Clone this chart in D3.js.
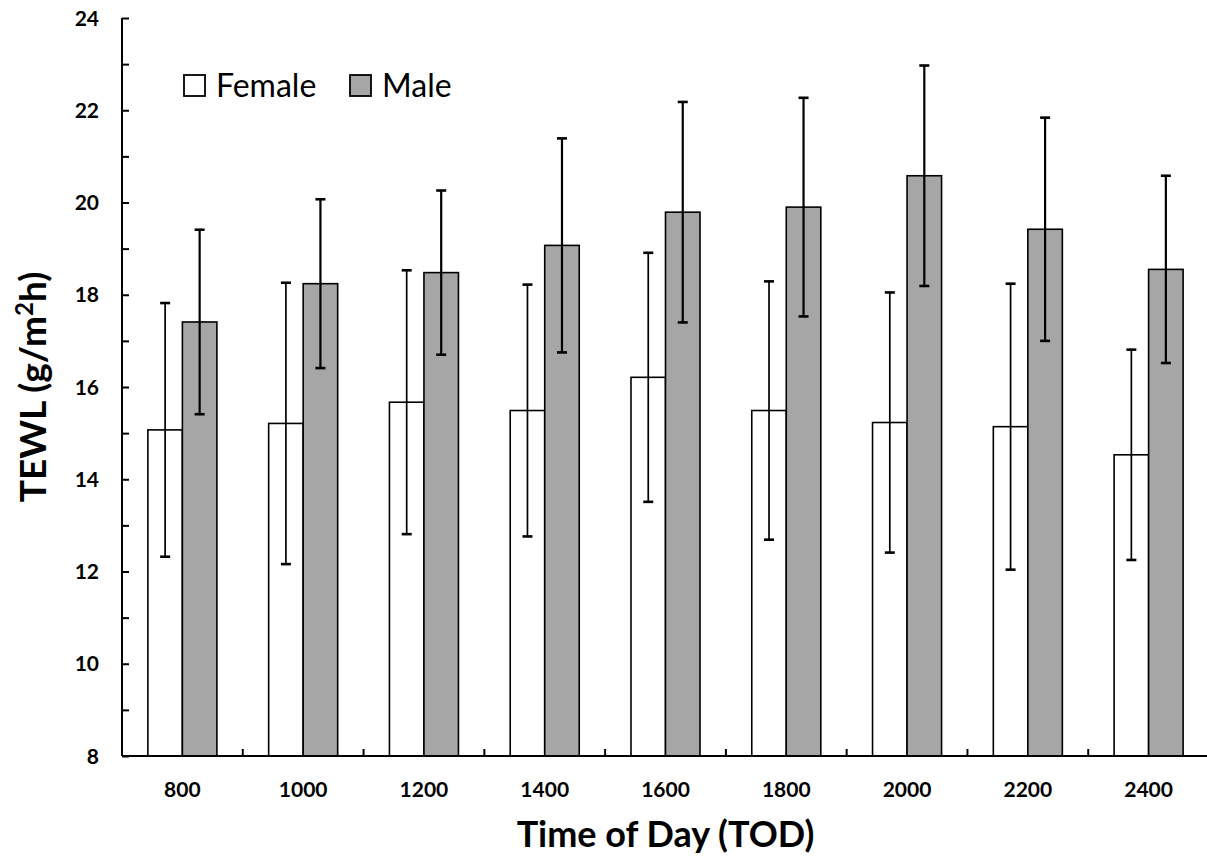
<!DOCTYPE html>
<html>
<head>
<meta charset="utf-8">
<script src="https://cdn.jsdelivr.net/npm/d3@7"></script>
<style>
  html, body { margin: 0; padding: 0; background: #fff; }
  svg { display: block; }
  text { font-family: Lato, "Open Sans", sans-serif; fill: #000; }
</style>
</head>
<body>
<svg id="chart" width="1207" height="863"></svg>
<script>
// ---- data ----
const categories = ["800", "1000", "1200", "1400", "1600", "1800", "2000", "2200", "2400"];
const seriesNames = ["Female", "Male"];
const femaleMean = [15.07, 15.21, 15.67, 15.49, 16.21, 15.49, 15.23, 15.14, 14.53];
const femaleErr  = [2.75, 3.05, 2.86, 2.73, 2.70, 2.80, 2.82, 3.10, 2.28];
const maleMean   = [17.41, 18.24, 18.48, 19.07, 19.79, 19.90, 20.58, 19.42, 18.55];
const maleErr    = [2.00, 1.83, 1.78, 2.32, 2.39, 2.37, 2.39, 2.42, 2.03];
const yTicks = [8, 10, 12, 14, 16, 18, 20, 22, 24];

// ---- layout ----
const plot = { left: 122, right: 1209, top: 18, bottom: 756 };
const colors = { Female: "#ffffff", Male: "#a6a6a6" };

const svg = d3.select("#chart");

const x0 = d3.scaleBand().domain(categories).range([plot.left, plot.right]).padding(0);
const gapWidth = 1.5; // Excel-style gap width (fraction of bar width)
const barW = x0.bandwidth() / (seriesNames.length + gapWidth);
const x1 = d3.scaleBand().domain(seriesNames)
  .range([barW * gapWidth / 2, barW * gapWidth / 2 + barW * seriesNames.length]).padding(0);
const y = d3.scaleLinear().domain([8, 24]).range([plot.bottom, plot.top]);

const rows = categories.map((c, i) => ({
  cat: c,
  values: [
    { name: "Female", mean: femaleMean[i], err: femaleErr[i] },
    { name: "Male", mean: maleMean[i], err: maleErr[i] }
  ]
}));

// ---- bars ----
const groups = svg.append("g").selectAll("g").data(rows).join("g")
  .attr("transform", d => `translate(${x0(d.cat)},0)`);

groups.selectAll("rect").data(d => d.values).join("rect")
  .attr("x", d => x1(d.name))
  .attr("y", d => y(d.mean))
  .attr("width", x1.bandwidth())
  .attr("height", d => y(8) - y(d.mean))
  .attr("fill", d => colors[d.name])
  .attr("stroke", "#000")
  .attr("stroke-width", 1.6);

// ---- error bars ----
const capHalf = 5;
const eb = groups.selectAll("g.err").data(d => d.values).join("g").attr("class", "err")
  .attr("stroke", "#000")
  .attr("stroke-width", d => d.name === "Male" ? 2.2 : 1.7);
eb.append("line")
  .attr("x1", d => x1(d.name) + x1.bandwidth() / 2)
  .attr("x2", d => x1(d.name) + x1.bandwidth() / 2)
  .attr("y1", d => y(d.mean + d.err))
  .attr("y2", d => y(d.mean - d.err));
eb.append("line")
  .attr("x1", d => x1(d.name) + x1.bandwidth() / 2 - capHalf)
  .attr("x2", d => x1(d.name) + x1.bandwidth() / 2 + capHalf)
  .attr("y1", d => y(d.mean + d.err))
  .attr("y2", d => y(d.mean + d.err))
  .attr("stroke-width", 2.6);
eb.append("line")
  .attr("x1", d => x1(d.name) + x1.bandwidth() / 2 - capHalf)
  .attr("x2", d => x1(d.name) + x1.bandwidth() / 2 + capHalf)
  .attr("y1", d => y(d.mean - d.err))
  .attr("y2", d => y(d.mean - d.err))
  .attr("stroke-width", 2.6);

// ---- y axis ----
const yAxis = d3.axisRight(y).tickValues(d3.range(8, 25, 1)).tickSize(7).tickFormat("");
const gy = svg.append("g").attr("transform", `translate(${plot.left},0)`).call(yAxis);
gy.select(".domain").attr("stroke", "#000").attr("stroke-width", 2).attr("d", `M0,${y(24)}V${y(8)}`);
gy.selectAll(".tick line").attr("stroke", "#000").attr("stroke-width", 2);
svg.append("g").selectAll("text").data(yTicks).join("text")
  .attr("x", 99).attr("y", d => y(d)).attr("dy", "0.36em")
  .attr("text-anchor", "end")
  .attr("font-size", 21).attr("font-weight", 700)
  .text(d => d);

// ---- x axis ----
svg.append("line")
  .attr("x1", plot.left).attr("x2", plot.right)
  .attr("y1", plot.bottom).attr("y2", plot.bottom)
  .attr("stroke", "#000").attr("stroke-width", 2);
svg.append("g").selectAll("line").data(categories).join("line")
  .attr("x1", d => x0(d) + x0.bandwidth())
  .attr("x2", d => x0(d) + x0.bandwidth())
  .attr("y1", plot.bottom).attr("y2", plot.bottom - 7)
  .attr("stroke", "#000").attr("stroke-width", 2);
svg.append("g").selectAll("text").data(categories).join("text")
  .attr("x", d => x0(d) + x0.bandwidth() / 2)
  .attr("y", 797)
  .attr("text-anchor", "middle")
  .attr("font-size", 21).attr("font-weight", 700)
  .text(d => d);

// ---- axis titles ----
svg.append("text")
  .attr("x", (plot.left + plot.right) / 2).attr("y", 847)
  .attr("text-anchor", "middle")
  .attr("font-size", 36).attr("font-weight", 700)
  .text("Time of Day (TOD)");

const yt = svg.append("text")
  .attr("transform", `translate(46,${(plot.top + plot.bottom) / 2}) rotate(-90)`)
  .attr("text-anchor", "middle")
  .attr("font-size", 37).attr("font-weight", 700);
yt.append("tspan").text("TEWL (g/m");
yt.append("tspan").attr("font-size", 24).attr("dy", -13).text("2");
yt.append("tspan").attr("dy", 13).text("h)");

// ---- legend ----
const legendItems = [
  { name: "Female", x: 184 },
  { name: "Male", x: 350 }
];
const lg = svg.append("g").selectAll("g").data(legendItems).join("g")
  .attr("transform", d => `translate(${d.x},75)`);
lg.append("rect").attr("width", 21).attr("height", 21)
  .attr("fill", d => colors[d.name]).attr("stroke", "#000").attr("stroke-width", 1.8);
lg.append("text").attr("x", 32).attr("y", 22)
  .attr("font-size", 32).attr("font-weight", 400)
  .text(d => d.name);
</script>
</body>
</html>
